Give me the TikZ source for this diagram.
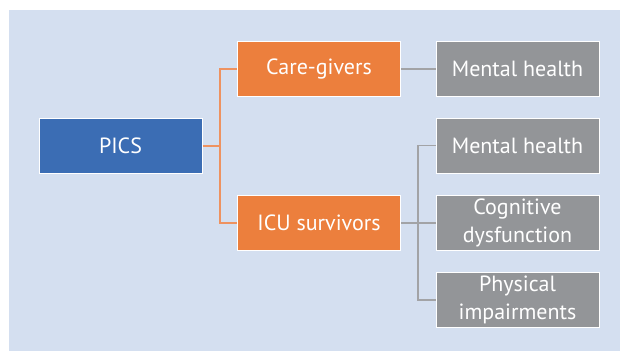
\documentclass[tikz,border=0pt]{standalone}
\usepackage{fontspec}
\setmainfont{PT Sans}
\definecolor{bgc}{HTML}{D4DFF0}
\definecolor{bluebox}{HTML}{3B6DB4}
\definecolor{orangebox}{HTML}{EC7F3D}
\definecolor{graybox}{HTML}{939598}
\definecolor{oline}{HTML}{EE9260}
\definecolor{gline}{HTML}{A2A3A6}
\begin{document}
\begin{tikzpicture}[x=1pt,y=-1pt,
  box/.style={draw=white, line width=1pt, minimum width=163pt, minimum height=55pt,
    text=white, font=\fontsize{22}{28}\selectfont, align=center, inner sep=0pt},
  bluenode/.style={box, fill=bluebox},
  orangenode/.style={box, fill=orangebox},
  graynode/.style={box, fill=graybox},
  oconn/.style={draw=oline, line width=1.5pt},
  gconn/.style={draw=gline, line width=1.5pt}]
\useasboundingbox (0,0) rectangle (620,351);
\fill[bgc] (9,10) rectangle (620,351);
\node[bluenode] (pics) at (120.5,146) {PICS};
\node[orangenode] (cg) at (319,69) {Care-givers};
\node[orangenode] (icu) at (319,223) {ICU survivors};
\node[graynode] (mh1) at (517.5,69) {Mental health};
\node[graynode] (mh2) at (517.5,145.5) {Mental health};
\node[graynode] (cog) at (517.5,223) {Cognitive\\dysfunction};
\node[graynode] (phys) at (517.5,300) {Physical\\impairments};
\coordinate (oj) at (220,146);
\coordinate (gj) at (418,223);
\draw[oconn] (pics.east) -- (oj);
\draw[oconn] (oj) |- (cg.west);
\draw[oconn] (oj) |- (icu.west);
\draw[gconn] (cg.east) -- (mh1.west);
\draw[gconn] (icu.east) -- (cog.west);
\draw[gconn] (gj) |- (mh2.west);
\draw[gconn] (gj) |- (phys.west);
\end{tikzpicture}
\end{document}
